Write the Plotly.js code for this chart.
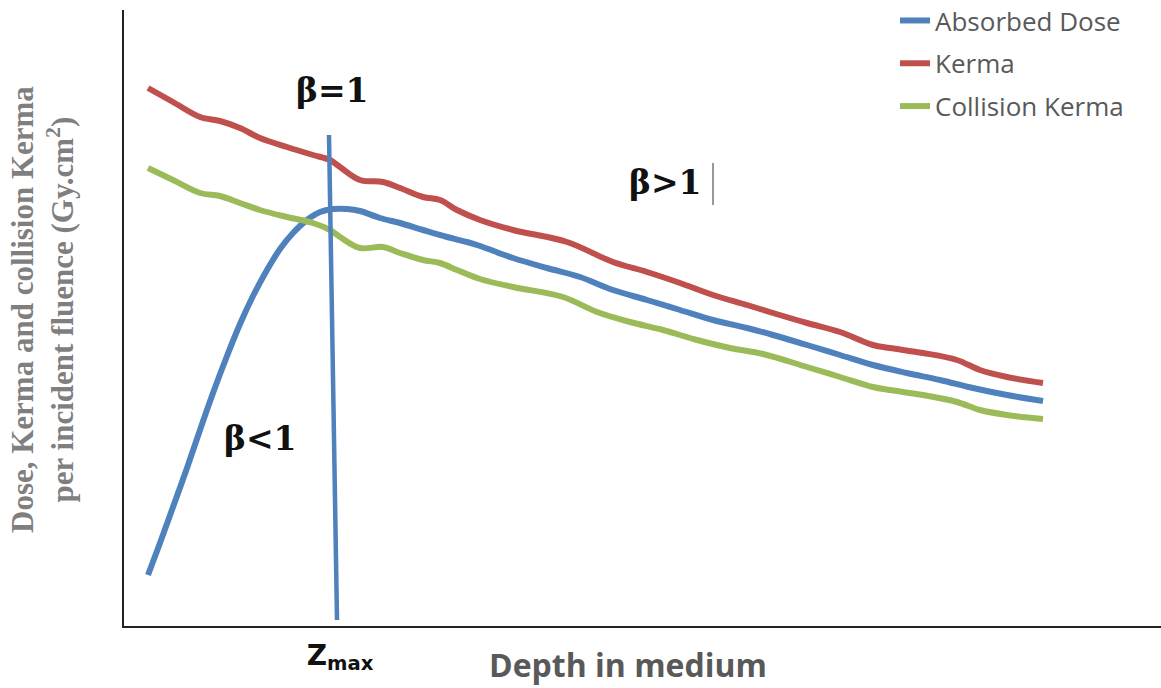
<!DOCTYPE html>
<html>
<head>
<meta charset="utf-8">
<script src="https://cdn.plot.ly/plotly-3.0.1.min.js"></script>
<style>html,body{margin:0;padding:0;background:#fff;}#chart{width:1161px;height:688px;}</style>
</head>
<body>
<div id="chart"></div>
<script>
// Series names
const seriesNames = ['Absorbed Dose', 'Kerma', 'Collision Kerma'];

// Absorbed dose (depth, value) – arbitrary units
const doseDepth = [24,36,49,63,76,89,103,116,129,143,156,169,183,196,209,223,236,256,276,299,323,343,356,389,423,456,489,523,556,589,623,649,683,716,749,783,816,849,883,919];
const doseValue = [51,83,119,158,196,233,270,302,330,356,377,393,406,414,417,417,415,408,403,396,389,384,380,368,358,349,336,326,316,306,298,291,281,271,261,253,246,238,231,225];

// Kerma
const kermaDepth = [24,49,76,96,116,136,163,189,206,216,236,259,276,299,316,333,356,389,443,489,523,556,589,623,649,683,716,749,766,799,833,856,883,919];
const kermaValue = [538,524,509,505,498,488,479,471,466,459,446,444,438,429,426,416,406,396,384,364,354,343,331,321,313,303,294,281,278,273,266,256,249,243];

// Collision kerma
const collDepth = [24,49,76,96,116,136,163,189,206,216,236,259,276,299,316,333,356,389,439,473,506,539,573,606,639,683,716,749,766,799,833,856,883,919];
const collValue = [458,446,433,430,423,416,409,403,396,389,378,379,373,366,363,356,347,339,329,314,304,296,286,278,272,259,249,239,236,231,224,216,211,207];

// Depth of maximum dose marker line
const zMaxLineDepth = [205, 213];
const zMaxLineValue = [491, 6];
const zMaxTick = [216];
const zMaxTickText = ['Z<sub>max</sub>'];

const colors = ['#4F81BD', '#C0504D', '#9BBB59'];

const traces = [
  {x: doseDepth, y: doseValue, name: seriesNames[0], legendgroup: 'a', mode: 'lines',
   line: {color: colors[0], width: 6, shape: 'spline', smoothing: 1}},
  {x: kermaDepth, y: kermaValue, name: seriesNames[1], legendgroup: 'b', mode: 'lines',
   line: {color: colors[1], width: 6, shape: 'spline', smoothing: 1}},
  {x: collDepth, y: collValue, name: seriesNames[2], legendgroup: 'c', mode: 'lines',
   line: {color: colors[2], width: 6, shape: 'spline', smoothing: 1}},
  {x: zMaxLineDepth, y: zMaxLineValue, mode: 'lines', showlegend: false, hoverinfo: 'skip',
   line: {color: colors[0], width: 4.5}}
];

const serifBold = {family: 'DejaVu Serif, serif', size: 33, color: '#111', weight: 'bold'};

const layout = {
  width: 1161, height: 688,
  margin: {l: 124, r: 0, t: 10, b: 62, autoexpand: false},
  paper_bgcolor: '#fff', plot_bgcolor: '#fff',
  showlegend: true,
  legend: {x: (895-124)/1037, xanchor: 'left', y: 1.021, yanchor: 'top', bgcolor: 'rgba(0,0,0,0)',
           font: {family: 'Open Sans, sans-serif', size: 26, color: '#595959'},
           tracegroupgap: 6, itemwidth: 30},
  xaxis: {range: [0, 1037], showgrid: false, zeroline: false, showline: true, linecolor: '#222', linewidth: 2,
          ticks: '', tickvals: zMaxTick, ticktext: zMaxTickText, ticklabelstandoff: 3,
          tickfont: {family: 'DejaVu Sans, sans-serif', size: 28, color: '#111', weight: 'bold'},
          fixedrange: true},
  yaxis: {range: [0, 616], showgrid: false, zeroline: false, showline: true, linecolor: '#222', linewidth: 2,
          showticklabels: false, ticks: '', fixedrange: true},
  annotations: [
    {text: 'β=1', x: 208, y: 536, xref: 'x', yref: 'y', showarrow: false, font: serifBold},
    {text: 'β>1', x: 541, y: 444, xref: 'x', yref: 'y', showarrow: false, font: serifBold},
    {text: 'β<1', x: 136, y: 188, xref: 'x', yref: 'y', showarrow: false, font: serifBold},
    {text: 'Depth in medium', x: (628-124)/1037, y: (626-664)/616, xref: 'paper', yref: 'paper',
     showarrow: false, xanchor: 'center', yanchor: 'middle',
     font: {family: 'Open Sans, sans-serif', size: 32, color: '#595959', weight: 'bold'}},
    {text: 'Dose, Kerma and collision Kerma<br>per incident fluence (Gy.cm<sup>2</sup>)',
     x: (42-124)/1037, y: (626-310)/616, xref: 'paper', yref: 'paper', textangle: -90,
     showarrow: false, xanchor: 'center', yanchor: 'middle',
     font: {family: 'Liberation Serif, Times New Roman, serif', size: 31, color: '#7f7f7f', weight: 'bold'}}
  ],
  shapes: [
    {type: 'line', xref: 'x', yref: 'y', x0: 589, x1: 589, y0: 463, y1: 421, line: {color: '#333', width: 1}}
  ]
};

Plotly.newPlot('chart', traces, layout, {staticPlot: true, displayModeBar: false});
</script>
</body>
</html>
